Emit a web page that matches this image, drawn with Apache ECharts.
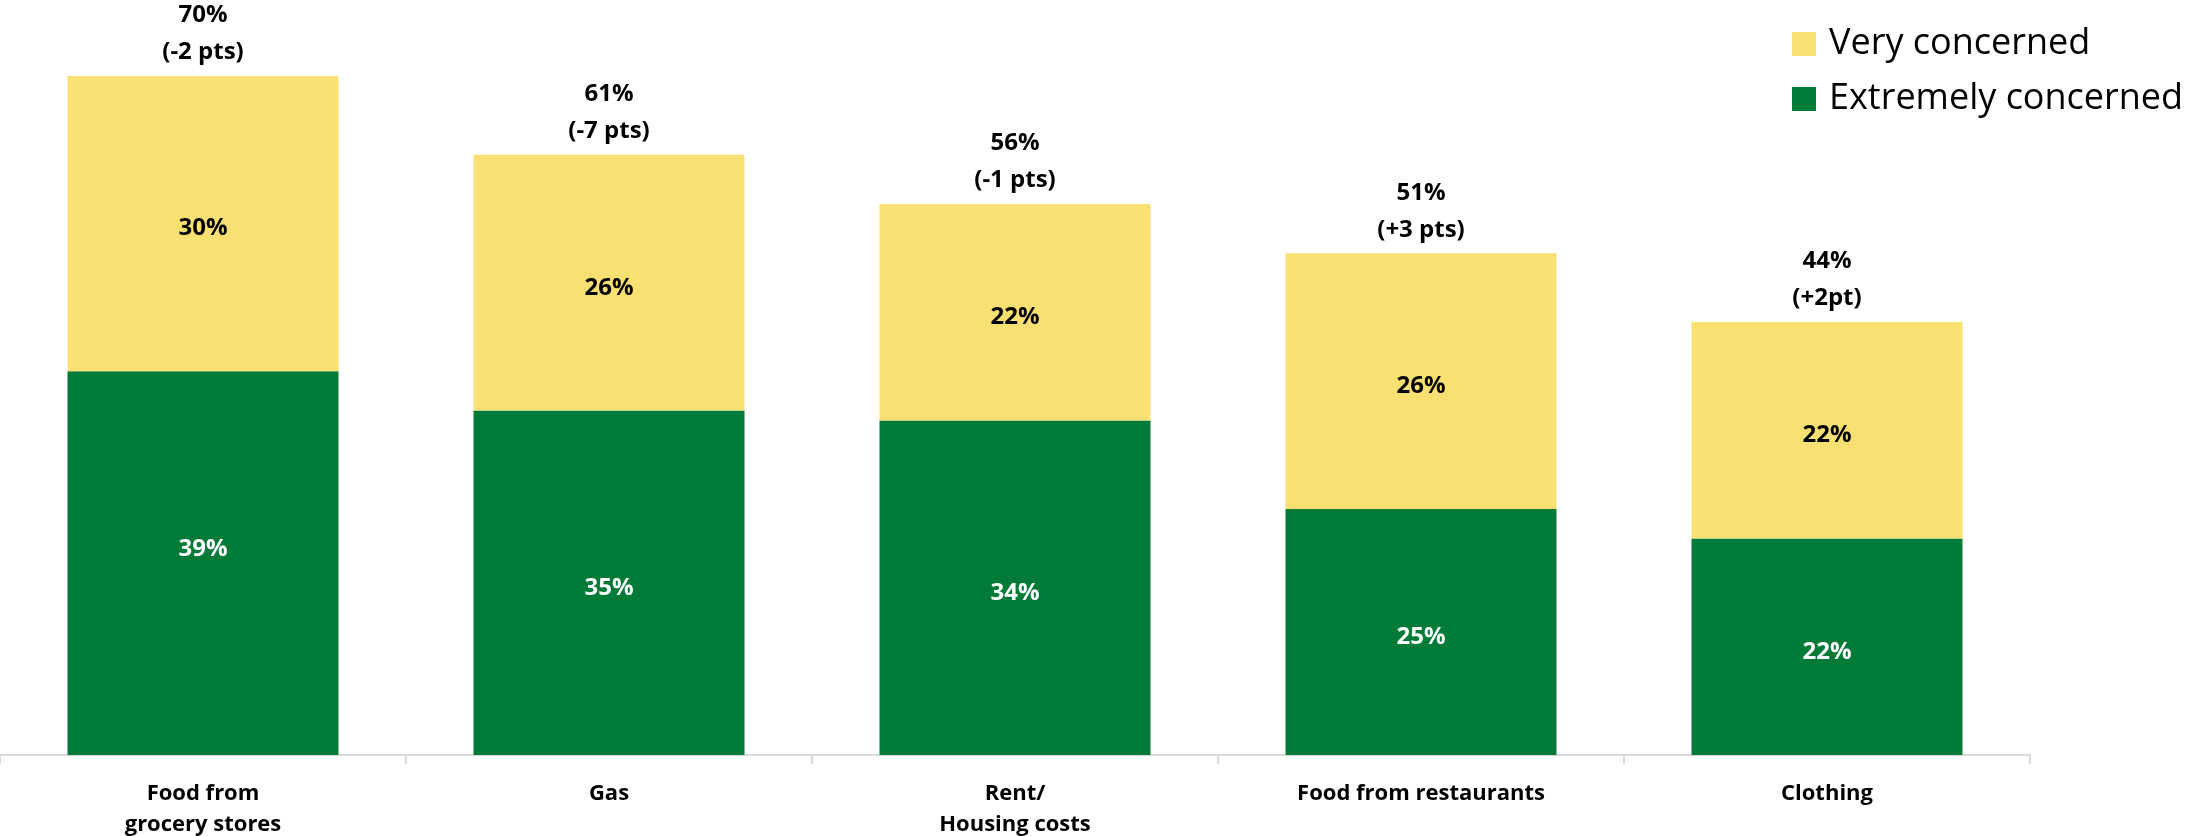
<!DOCTYPE html>
<html>
<head>
<meta charset="utf-8">
<title>Concern about prices</title>
<script src="https://cdn.jsdelivr.net/npm/echarts@6/dist/echarts.min.js"></script>
<style>
  html, body { margin: 0; padding: 0; background: #ffffff; }
  #chart { width: 2196px; height: 836px; }
</style>
</head>
<body>
<div id="chart"></div>
<script>
// Categories on the x axis
const categories = ['Food from\ngrocery stores', 'Gas', 'Rent/\nHousing costs', 'Food from restaurants', 'Clothing'];
// Share of respondents (%)
const extremelyConcerned = [39, 35, 34, 25, 22];
const veryConcerned = [30, 26, 22, 26, 22];
// Combined totals and change labels shown above each stack
const totalLabels = ['70%', '61%', '56%', '51%', '44%'];
const changeLabels = ['(-2 pts)', '(-7 pts)', '(-1 pts)', '(+3 pts)', '(+2pt)'];

const GREEN = '#007A37';
const YELLOW = '#FADF73';
const FONT = '"Open Sans", "Noto Sans", sans-serif';

const stackTops = extremelyConcerned.map((v, i) => v + veryConcerned[i]);

const chart = echarts.init(document.getElementById('chart'), null, { renderer: 'canvas' });

const insideLabel = color => ({
  show: true,
  position: 'inside',
  offset: [0, 5],
  color: color,
  fontFamily: FONT,
  fontWeight: 'bold',
  fontSize: 24,
  formatter: p => p.value + '%'
});

chart.setOption({
  animation: false,
  backgroundColor: '#ffffff',
  textStyle: { fontFamily: FONT },
  grid: { left: 0, right: 166, top: 17, bottom: 81, containLabel: false, outerBoundsMode: 'none' },
  legend: {
    orient: 'vertical',
    left: 1787,
    top: 21,
    itemWidth: 24,
    itemHeight: 24,
    itemGap: 19,
    icon: 'rect',
    data: ['Very concerned', 'Extremely concerned'],
    textStyle: { fontFamily: FONT, fontSize: 36, color: '#000', lineHeight: 36, padding: [0, 0, 0, 8] }
  },
  xAxis: {
    type: 'category',
    data: categories,
    axisLine: { show: true, lineStyle: { color: '#D9D9D9', width: 2 } },
    axisTick: { show: true, length: 9, lineStyle: { color: '#D9D9D9', width: 2 } },
    axisLabel: {
      margin: 23,
      interval: 0,
      color: '#000',
      fontFamily: FONT,
      fontWeight: 'bold',
      fontSize: 22,
      lineHeight: 31
    }
  },
  yAxis: {
    type: 'value',
    min: 0,
    max: 75,
    show: false,
    splitLine: { show: false }
  },
  series: [
    {
      name: 'Extremely concerned',
      type: 'bar',
      stack: 'concern',
      barWidth: 271,
      itemStyle: { color: GREEN },
      // the first label sits a little higher inside its bar
      data: extremelyConcerned.map((v, i) => i === 0
        ? { value: v, label: { offset: [0, -14] } }
        : v),
      label: insideLabel('#fff')
    },
    {
      name: 'Very concerned',
      type: 'bar',
      stack: 'concern',
      barWidth: 271,
      itemStyle: { color: YELLOW },
      data: veryConcerned,
      label: insideLabel('#000')
    },
    {
      // totals above each stack
      name: 'Total',
      type: 'scatter',
      symbolSize: 0,
      silent: true,
      itemStyle: { opacity: 1 },
      data: stackTops,
      label: {
        show: true,
        position: 'top',
        distance: 5,
        color: '#000',
        fontFamily: FONT,
        fontWeight: 'bold',
        fontSize: 24,
        lineHeight: 37,
        align: 'center',
        formatter: p => totalLabels[p.dataIndex] + '\n' + changeLabels[p.dataIndex]
      }
    }
  ]
});
</script>
</body>
</html>
